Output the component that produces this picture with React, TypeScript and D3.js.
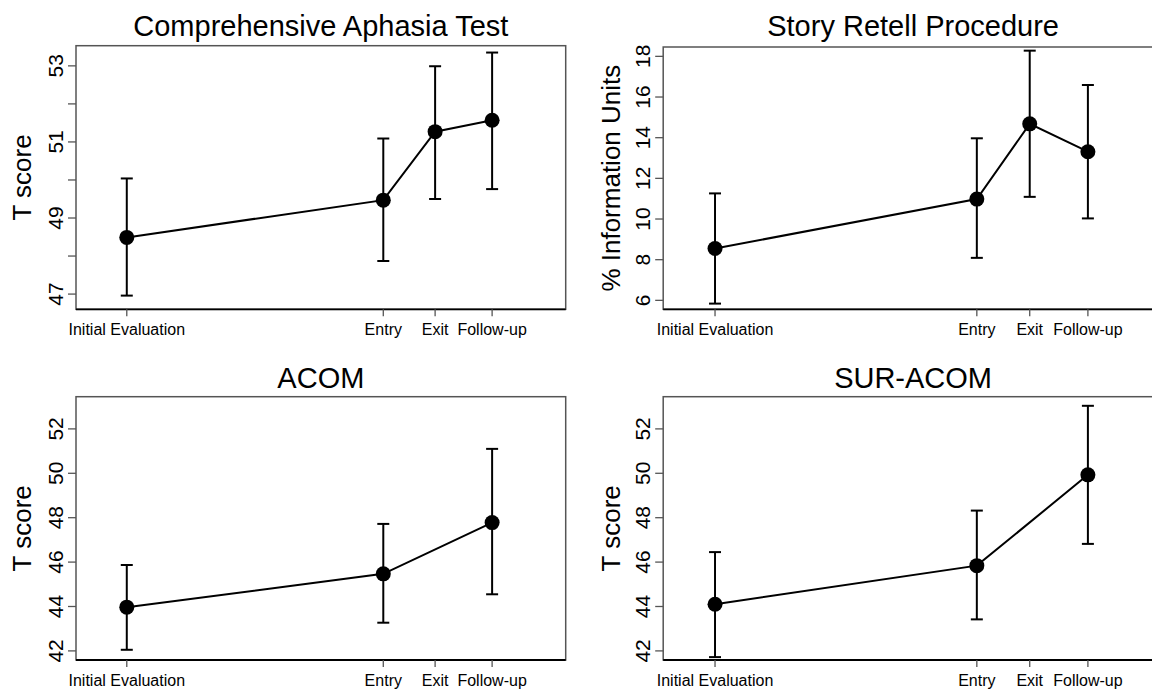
import React from "react";
import * as d3 from "d3";

// ---- data ----
const timeLabels = ["Initial Evaluation", "Entry", "Exit", "Follow-up"];
const timePoints = [0, 4.95, 5.95, 7.05];

const catMean = [48.49, 49.47, 51.27, 51.57];
const catLow = [46.96, 47.87, 49.5, 49.76];
const catHigh = [50.04, 51.09, 52.99, 53.35];

const storyMean = [8.55, 10.98, 14.68, 13.31];
const storyLow = [5.84, 8.09, 11.09, 10.03];
const storyHigh = [11.26, 13.97, 18.28, 16.59];

const acomMean = [43.97, 45.47, null, 47.78];
const acomLow = [42.05, 43.27, null, 44.55];
const acomHigh = [45.87, 47.72, null, 51.1];

const surMean = [44.1, 45.84, null, 49.93];
const surLow = [41.72, 43.42, null, 46.82];
const surHigh = [46.45, 48.32, null, 53.04];

const catTicks = [47, 48, 49, 50, 51, 52, 53];
const catTickLabels = [47, 49, 51, 53];
const storyTicks = [6, 8, 10, 12, 14, 16, 18];
const acomTicks = [42, 44, 46, 48, 50, 52];

type PanelDef = {
  title: string;
  ylabel: string;
  mean: (number | null)[];
  low: (number | null)[];
  high: (number | null)[];
  ticks: number[];
  tickLabels: number[];
  yDomain: [number, number];
  box: { l: number; r: number; t: number; b: number };
  titleY: number;
  ylabelX: number;
};

const panels: PanelDef[] = [
  {
    title: "Comprehensive Aphasia Test",
    ylabel: "T score",
    mean: catMean,
    low: catLow,
    high: catHigh,
    ticks: catTicks,
    tickLabels: catTickLabels,
    yDomain: [46.6, 53.53],
    box: { l: 76, r: 565.7, t: 45.7, b: 309.3 },
    titleY: 36,
    ylabelX: 31,
  },
  {
    title: "Story Retell Procedure",
    ylabel: "% Information Units",
    mean: storyMean,
    low: storyLow,
    high: storyHigh,
    ticks: storyTicks,
    tickLabels: storyTicks,
    yDomain: [5.56, 18.46],
    box: { l: 663.2, r: 1163, t: 47, b: 309.3 },
    titleY: 36,
    ylabelX: 620,
  },
  {
    title: "ACOM",
    ylabel: "T score",
    mean: acomMean,
    low: acomLow,
    high: acomHigh,
    ticks: acomTicks,
    tickLabels: acomTicks,
    yDomain: [41.59, 53.45],
    box: { l: 76, r: 565.7, t: 396.7, b: 660 },
    titleY: 387.7,
    ylabelX: 31,
  },
  {
    title: "SUR-ACOM",
    ylabel: "T score",
    mean: surMean,
    low: surLow,
    high: surHigh,
    ticks: acomTicks,
    tickLabels: acomTicks,
    yDomain: [41.59, 53.45],
    box: { l: 663.2, r: 1163, t: 396.7, b: 660 },
    titleY: 387.7,
    ylabelX: 620,
  },
];

const FONT = "'Liberation Sans', Arial, Helvetica, sans-serif";
const GRAY = "#555";

function Panel({ p }: { p: PanelDef }) {
  const { box } = p;
  const x = d3.scaleLinear().domain([-0.98, 8.47]).range([box.l, box.r]);
  const y = d3.scaleLinear().domain(p.yDomain).range([box.b, box.t]);
  const pts = timePoints
    .map((t, i) => ({ t, m: p.mean[i], lo: p.low[i], hi: p.high[i] }))
    .filter((d) => d.m !== null) as { t: number; m: number; lo: number; hi: number }[];
  const line = d3
    .line<{ t: number; m: number }>()
    .x((d) => x(d.t))
    .y((d) => y(d.m));
  const cx = (box.l + box.r) / 2;
  const cy = (box.t + box.b) / 2;
  return (
    <g>
      <text
        x={cx}
        y={p.titleY}
        textAnchor="middle"
        fontSize={29}
        fontFamily={FONT}
        fill="#000"
      >
        {p.title}
      </text>
      {/* box */}
      <rect
        x={box.l}
        y={box.t}
        width={box.r - box.l}
        height={box.b - box.t}
        fill="none"
        stroke={GRAY}
        strokeWidth={1.5}
      />
      <line x1={box.l} x2={box.r} y1={box.b} y2={box.b} stroke="#000" strokeWidth={1.8} />
      {/* y ticks */}
      {p.ticks.map((v) => (
        <line
          key={"yt" + v}
          x1={box.l - 8}
          x2={box.l}
          y1={y(v)}
          y2={y(v)}
          stroke={GRAY}
          strokeWidth={1.3}
        />
      ))}
      {p.tickLabels.map((v) => (
        <text
          key={"yl" + v}
          transform={`translate(${box.l - 13},${y(v)}) rotate(-90)`}
          textAnchor="middle"
          fontSize={21}
          fontFamily={FONT}
          fill="#000"
        >
          {v}
        </text>
      ))}
      <text
        transform={`translate(${p.ylabelX},${cy}) rotate(-90)`}
        textAnchor="middle"
        fontSize={26}
        fontFamily={FONT}
        fill="#000"
      >
        {p.ylabel}
      </text>
      {/* x ticks */}
      {timePoints.map((t, i) => (
        <g key={"xt" + i}>
          <line
            x1={x(t)}
            x2={x(t)}
            y1={box.b}
            y2={box.b + 7}
            stroke={GRAY}
            strokeWidth={1.3}
          />
          <text
            x={x(t)}
            y={box.b + 26}
            textAnchor="middle"
            fontSize={16}
            fontFamily={FONT}
            fill="#000"
          >
            {timeLabels[i]}
          </text>
        </g>
      ))}
      {/* error bars */}
      {pts.map((d, i) => (
        <g key={"eb" + i} stroke="#000" strokeWidth={2}>
          <line x1={x(d.t)} x2={x(d.t)} y1={y(d.lo)} y2={y(d.hi)} />
          <line x1={x(d.t) - 6} x2={x(d.t) + 6} y1={y(d.lo)} y2={y(d.lo)} />
          <line x1={x(d.t) - 6} x2={x(d.t) + 6} y1={y(d.hi)} y2={y(d.hi)} />
        </g>
      ))}
      <path d={line(pts) || ""} fill="none" stroke="#000" strokeWidth={2} />
      {pts.map((d, i) => (
        <circle key={"pt" + i} cx={x(d.t)} cy={y(d.m)} r={7.5} fill="#000" />
      ))}
    </g>
  );
}

export default function App() {
  return (
    <svg
      width={1152}
      height={690}
      viewBox="0 0 1152 690"
      style={{ position: "absolute", left: 0, top: 0, background: "#fff" }}
    >
      <rect x={0} y={0} width={1152} height={690} fill="#fff" />
      {panels.map((p, i) => (
        <Panel key={i} p={p} />
      ))}
    </svg>
  );
}
